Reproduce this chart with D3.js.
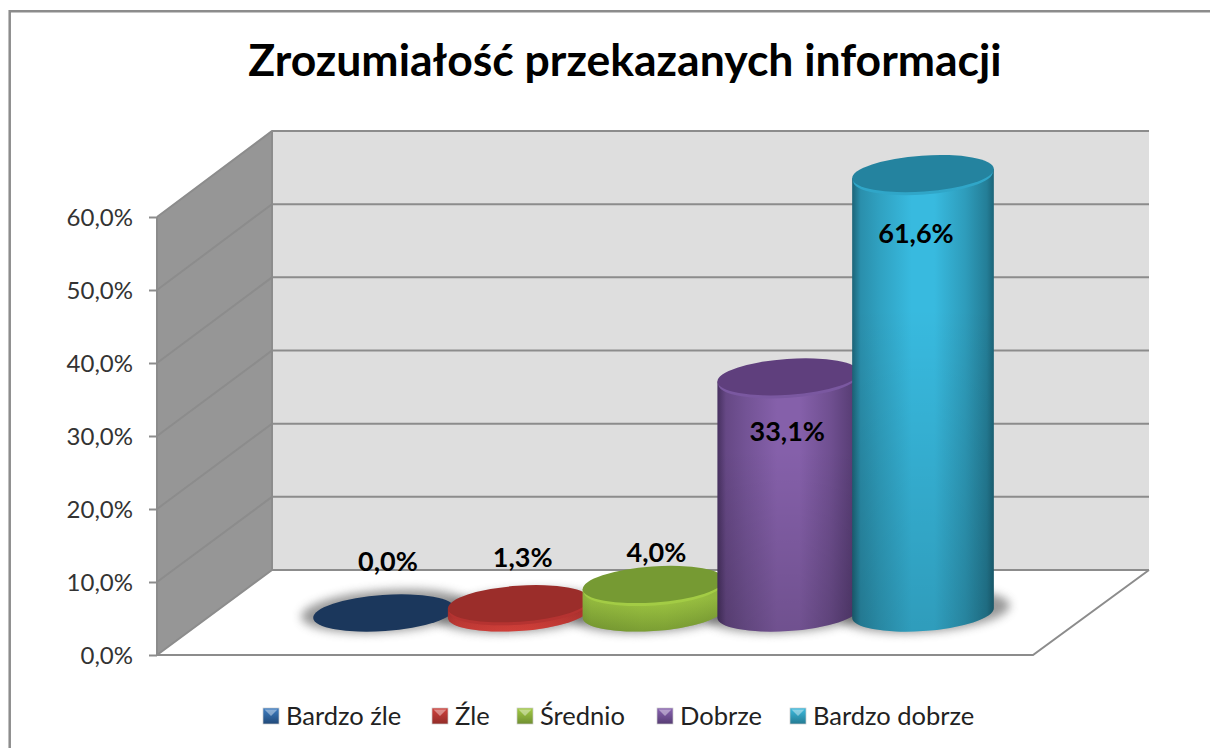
<!DOCTYPE html>
<html><head><meta charset="utf-8">
<script src="https://cdn.jsdelivr.net/npm/d3@7"></script>
<style>html,body{margin:0;padding:0;background:#fff}svg{display:block}text{font-family:Lato,"Noto Sans",sans-serif}</style>
</head><body><svg id="c" width="1210" height="748"></svg>
<script>
const categories=["Bardzo źle","Źle","Średnio","Dobrze","Bardzo dobrze"];
const values=[0.0,1.3,4.0,33.1,61.6];
const valueLabels=["0,0%","1,3%","4,0%","33,1%","61,6%"];
const tickValues=[0,10,20,30,40,50,60];
const tickLabels=["0,0%","10,0%","20,0%","30,0%","40,0%","50,0%","60,0%"];
const titleText="Zrozumiałość przekazanych informacji";
const edgeColors=["#17375e","#7d2523","#5f7a2b","#46305f","#1c6478"];
const midColors=["#1f497d","#c0392f","#96bb3d","#8560aa","#38badf"];
const topColors=["#1b375c","#9b2d2a","#769a33","#5f3f7d","#24839f"];
const lipColors=["#1b375c","#b53331","#a3cc45","#7a58a0","#30a6c8"];
const rimColors=["#1b375c","#d8433f","#6c8e2e","#46305f","#1c6478"];
const swatchColors=["#3f7fc4","#d0413c","#a3cc45","#8a64b2","#3cbce0"];
const legendX=[263,432,517,657,790];

const svg=d3.select("#c");
const defs=svg.append("defs");
defs.append("filter").attr("id","blur").attr("x","-30%").attr("y","-60%").attr("width","160%").attr("height","220%")
  .append("feGaussianBlur").attr("stdDeviation",5);
const shade=defs.append("linearGradient").attr("id","shade").attr("x1",0).attr("x2",0).attr("y1",0).attr("y2",1);
shade.append("stop").attr("offset",.3).attr("stop-color","#000").attr("stop-opacity",0);
shade.append("stop").attr("offset",1).attr("stop-color","#000").attr("stop-opacity",.16);
categories.forEach((c,i)=>{
  const mix=d3.interpolateRgb(edgeColors[i],midColors[i]);
  const g=defs.append("linearGradient").attr("id","g"+i);
  [[0,edgeColors[i]],[.06,mix(.5)],[.2,mix(.72)],[.42,midColors[i]],[.58,midColors[i]],[.8,mix(.65)],[.95,mix(.3)],[1,edgeColors[i]]]
   .forEach(s=>g.append("stop").attr("offset",s[0]).attr("stop-color",s[1]));
  const l=defs.append("linearGradient").attr("id","l"+i).attr("x1",0).attr("x2",0).attr("y1",0).attr("y2",1);
  l.append("stop").attr("offset",.35).attr("stop-color",lipColors[i]);
  l.append("stop").attr("offset",1).attr("stop-color",rimColors[i]);
  const s=defs.append("linearGradient").attr("id","s"+i).attr("x1",0).attr("x2",0).attr("y1",0).attr("y2",1);
  s.append("stop").attr("offset",0).attr("stop-color",swatchColors[i]);
  s.append("stop").attr("offset",1).attr("stop-color",d3.interpolateRgb(edgeColors[i],swatchColors[i])(.25));
});

// frame
svg.append("path").attr("d","M9.7,748V11.3H1210").attr("fill","none").attr("stroke","#8c8c8c").attr("stroke-width",2.5);

// scales
const yFront=d3.scaleLinear().domain([0,60]).range([655,217]);
const yBack=d3.scaleLinear().domain([0,60]).range([570,131]);
const barH=d3.scaleLinear().domain([0,60]).range([0,428]);
const xBand=d3.scalePoint().domain(categories).range([384,923]);
const xFL=157,xBL=272,xBR=1149,xFR=1033;
const grid="#8c8c8c";

// walls
svg.append("path").attr("fill","#dedede").attr("d",`M${xBL},${yBack(60)}H${xBR}V${yBack(0)}H${xBL}Z`);
svg.append("path").attr("fill","#969696").attr("d",`M${xFL},${yFront(60)}L${xBL},${yBack(60)}V${yBack(0)}L${xFL},${yFront(0)}Z`);
svg.append("path").attr("fill","#fff").attr("d",`M${xFL},${yFront(0)}L${xBL},${yBack(0)}H${xBR}L${xFR},${yFront(0)}Z`);

// gridlines
tickValues.forEach(v=>{
  svg.append("path").attr("fill","none").attr("stroke",grid).attr("stroke-width",2)
    .attr("d",`M${xFL},${yFront(v)}L${xBL},${yBack(v)}H${xBR}`);
});
svg.append("path").attr("fill","none").attr("stroke",grid).attr("stroke-width",2)
  .attr("d",`M${xBL},${yBack(60)}V${yBack(0)}M${xFL},${yFront(60)}V${yFront(0)}H${xFR}L${xBR},${yBack(0)}`);

// y axis via d3
const axis=svg.append("g").attr("transform",`translate(${xFL},0)`)
  .call(d3.axisLeft(yFront).tickValues(tickValues).tickFormat((d,i)=>tickLabels[i]).tickSize(8).tickPadding(16));
axis.select(".domain").remove();
axis.selectAll("line").attr("stroke",grid).attr("stroke-width",2);
axis.selectAll("text").attr("font-size",24).attr("fill","#333").attr("font-family","Lato").attr("dy","0.34em");

// cylinders
const baseY=613,a=71,b=18,rot=-4;
const th=rot*Math.PI/180;
const X=Math.sqrt(a*a*Math.cos(th)**2+b*b*Math.sin(th)**2);
const Yo=(a*a-b*b)*Math.sin(th)*Math.cos(th)/X;
categories.forEach((c,i)=>{
  svg.append("ellipse").attr("cx",xBand(c)+2).attr("cy",baseY-2).attr("rx",a+14).attr("ry",b+3)
    .attr("transform",`rotate(${rot} ${xBand(c)+2} ${baseY-2})`).attr("fill","#555").attr("opacity",.6).attr("filter","url(#blur)");
});
categories.forEach((c,i)=>{
  const cx=xBand(c), h=barH(values[i]), top=baseY-h;
  const lx=cx-X, rx=cx+X;
  const body=`M${lx},${top-Yo}L${lx},${baseY-Yo}A${a},${b} ${rot} 0 0 ${rx},${baseY+Yo}L${rx},${top+Yo}Z`;
  if(h>0){
    if(h<40){
      svg.append("path").attr("fill",`url(#l${i})`).attr("d",body);
      svg.append("path").attr("fill",`url(#g${i})`).attr("opacity",.35).attr("d",body);
    } else {
      svg.append("path").attr("fill",`url(#g${i})`).attr("d",body);
      svg.append("path").attr("fill","url(#shade)").attr("d",body);
    }
    svg.append("ellipse").attr("cx",cx).attr("cy",top+3).attr("rx",a-1).attr("ry",b)
      .attr("transform",`rotate(${rot} ${cx} ${top+3})`).attr("fill",lipColors[i]);
  }
  svg.append("ellipse").attr("cx",cx).attr("cy",top).attr("rx",a).attr("ry",b)
    .attr("transform",`rotate(${rot} ${cx} ${top})`).attr("fill",topColors[i]);
});

// value labels
const labelDx=[4,7,3,-1,-7];
const labelY=d3.scaleOrdinal().domain(categories).range([562,558,553,432,234]);
const labelDx2=[0,-3,0,0,0];
svg.selectAll(".vl").data(categories).join("text").attr("class","vl")
  .attr("x",(d,i)=>xBand(d)+labelDx[i]+labelDx2[i]).attr("y",d=>labelY(d)).attr("dy","0.35em")
  .attr("text-anchor","middle").attr("font-size",27).attr("font-weight",700).attr("fill","#000")
  .text((d,i)=>valueLabels[i]);

// title
svg.append("text").attr("x",625).attr("y",60).attr("dy","0.35em").attr("text-anchor","middle")
  .attr("font-size",44.5).attr("font-weight",700).attr("fill","#000").text(titleText);

// legend
categories.forEach((c,i)=>{
  const g=svg.append("g").attr("transform",`translate(${legendX[i]},708)`);
  g.append("rect").attr("width",16).attr("height",16).attr("fill",`url(#s${i})`).attr("stroke","#ccc").attr("stroke-width",.7);
  g.append("path").attr("d","M1.5,1.5H14.5L8,8Z").attr("fill","#fff").attr("opacity",.4);
  g.append("text").attr("x",23).attr("y",8).attr("dy","0.35em").attr("font-size",25.5).attr("fill","#222").text(c);
});
</script></body></html>
